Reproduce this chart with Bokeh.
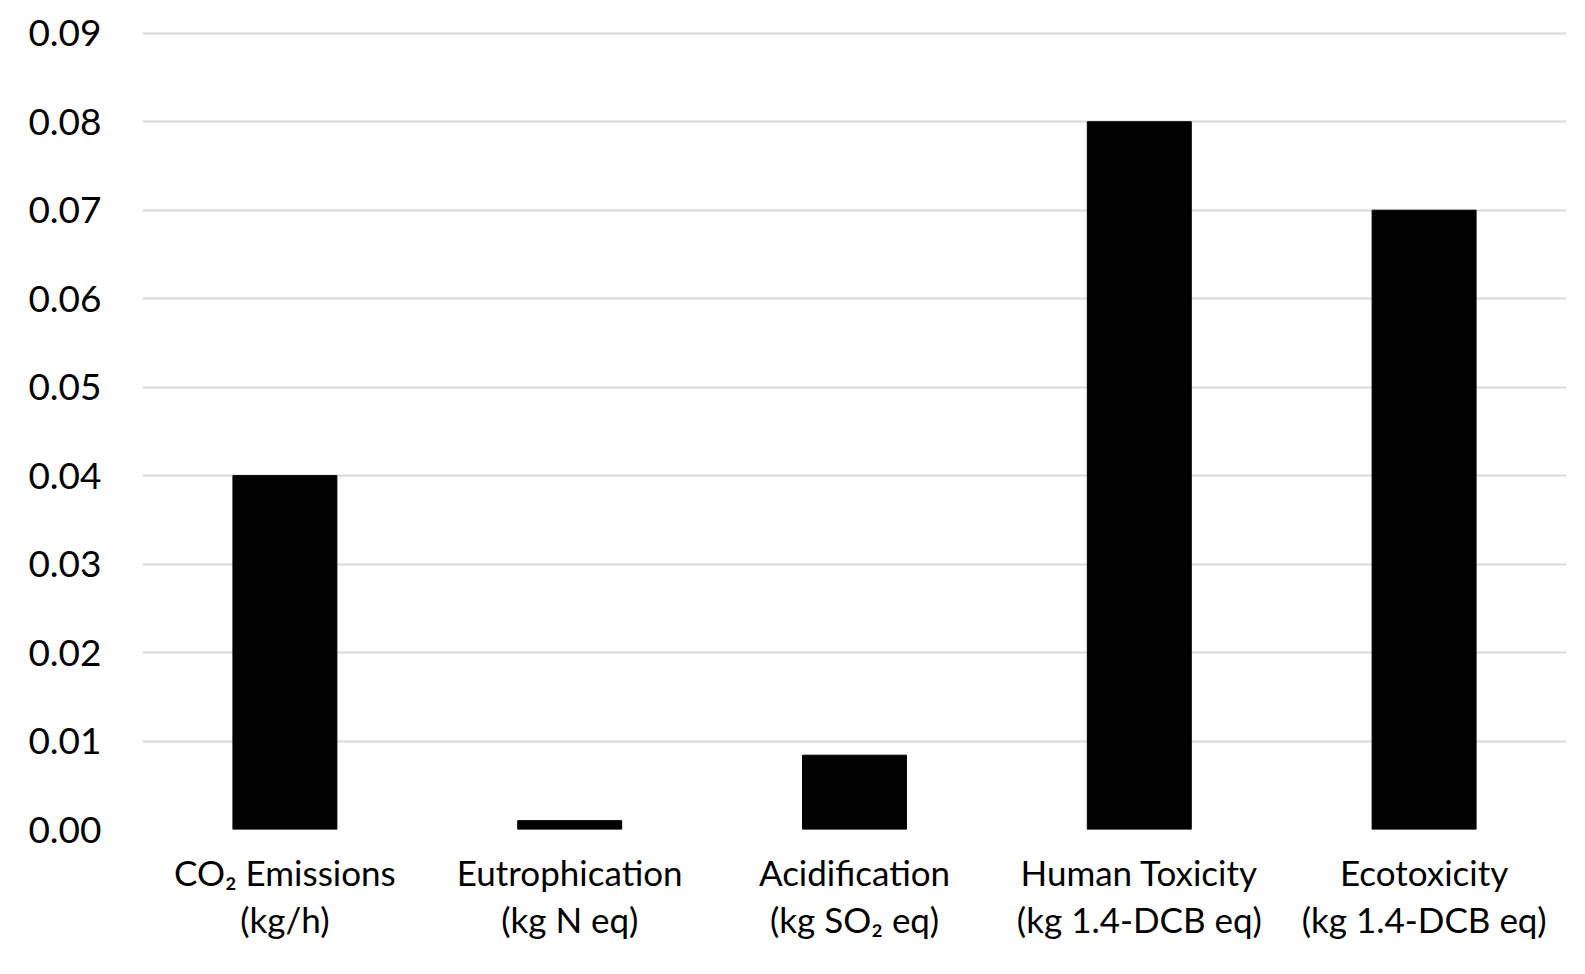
from bokeh.plotting import figure
from bokeh.embed import file_html
from bokeh.resources import INLINE
from bokeh.models import FixedTicker, NumeralTickFormatter

categories = ["CO\u2082 Emissions\n(kg/h)", "Eutrophication\n(kg N eq)", "Acidification\n(kg SO\u2082 eq)",
              "Human Toxicity\n(kg 1.4-DCB eq)", "Ecotoxicity\n(kg 1.4-DCB eq)"]
values = [0.040, 0.001, 0.0084, 0.080, 0.070]
yticks = [0.0, 0.01, 0.02, 0.03, 0.04, 0.05, 0.06, 0.07, 0.08, 0.09]

FONT = "Lato"

p = figure(x_range=categories, y_range=(0, 0.0902), output_backend="svg", toolbar_location=None,
           frame_width=1424, frame_height=798)
p.min_border_left = 142
p.min_border_top = 31
p.min_border_right = 11
p.min_border_bottom = 125
p.outline_line_color = None
p.background_fill_color = "white"

p.vbar(x=categories, top=values, width=0.365, color="black")

p.xgrid.grid_line_color = None
p.ygrid.grid_line_color = "#d9d9d9"
p.ygrid.grid_line_width = 2
p.ygrid.ticker = FixedTicker(ticks=yticks)

p.yaxis.ticker = FixedTicker(ticks=yticks)
p.yaxis.formatter = NumeralTickFormatter(format="0.00")
p.yaxis.axis_line_color = None
p.yaxis.major_tick_line_color = None
p.yaxis.minor_tick_line_color = None
p.yaxis.major_label_standoff = 35
p.yaxis.major_label_text_font = FONT
p.yaxis.major_label_text_font_size = "37px"
p.yaxis.major_label_text_color = "black"

p.xaxis.axis_line_color = None
p.xaxis.major_tick_line_color = None
p.xaxis.minor_tick_line_color = None
p.xaxis.major_label_standoff = 15
p.xaxis.major_label_text_font = FONT
p.xaxis.major_label_text_font_size = "35px"
p.xaxis.major_label_text_color = "black"
p.xaxis.major_label_text_line_height = 1.13

open("out.html", "w").write(file_html(p, INLINE))
